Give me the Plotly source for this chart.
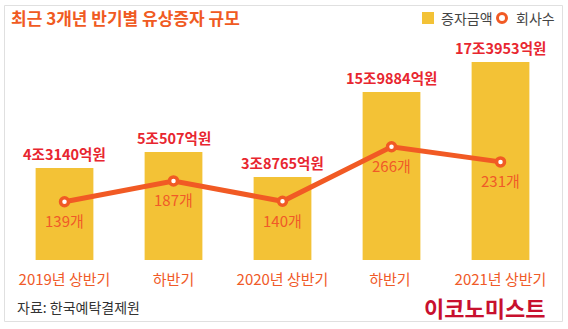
import plotly.graph_objects as go

# ---- data ----
categories = ["2019년 상반기", "하반기", "2020년 상반기", "하반기 ", "2021년 상반기"]
amount_labels = ["4조3140억원", "5조507억원", "3조8765억원", "15조9884억원", "17조3953억원"]
# bar heights as drawn in the infographic (display units)
bar_heights = [92, 108, 83, 168, 198]
company_counts = [139, 187, 140, 266, 231]
count_labels = [f"{v}개" for v in company_counts]

# ---- style ----
W, H = 568, 329
L, R, T, B = 10, 13, 40, 69
PW, PH = W - L - R, H - T - B
FONT = "Noto Sans CJK KR"
BAR_C = "#F3C236"
LINE_C = "#F15A24"
RED = "#E8262F"
ORANGE = "#F05A28"


def px(x):
    return (x - L) / PW


def py(y):
    return (H - B - y) / PH


fig = go.Figure()
fig.add_trace(go.Bar(
    x=categories, y=bar_heights, marker=dict(color=BAR_C, line=dict(width=0)),
    width=0.53, showlegend=False, hoverinfo="skip", yaxis="y"))
fig.add_trace(go.Scatter(
    x=categories, y=company_counts, mode="lines+markers", yaxis="y2",
    line=dict(color=LINE_C, width=5),
    marker=dict(size=8, color="white", line=dict(color=LINE_C, width=3.5)),
    showlegend=False, hoverinfo="skip", cliponaxis=False))

annotations = []
for c, h, t in zip(categories, bar_heights, amount_labels):
    annotations.append(dict(x=c, y=h, xref="x", yref="y", text=f"<b>{t}</b>", showarrow=False,
                            yanchor="middle", yshift=15,
                            font=dict(family=FONT, size=14.5, color=RED)))
for c, v, t in zip(categories, company_counts, count_labels):
    annotations.append(dict(x=c, y=v, xref="x", yref="y2", text=t, showarrow=False,
                            yanchor="middle", yshift=-19,
                            font=dict(family=FONT, size=15, color=ORANGE)))

# title
annotations.append(dict(x=px(9), y=py(17.5), xref="paper", yref="paper", xanchor="left",
                        yanchor="middle", showarrow=False,
                        text="<b>최근 3개년 반기별 유상증자 규모</b>",
                        font=dict(family=FONT, size=17, color="#F05A22")))
# legend
annotations.append(dict(x=px(439), y=py(18), xref="paper", yref="paper", xanchor="left",
                        yanchor="middle", showarrow=False, text="증자금액",
                        font=dict(family=FONT, size=14, color="#444")))
annotations.append(dict(x=px(514), y=py(18), xref="paper", yref="paper", xanchor="left",
                        yanchor="middle", showarrow=False, text="회사수",
                        font=dict(family=FONT, size=14, color="#444")))
# source
annotations.append(dict(x=px(15), y=py(307), xref="paper", yref="paper", xanchor="left",
                        yanchor="middle", showarrow=False, text="자료: 한국예탁결제원",
                        font=dict(family=FONT, size=14, color="#333")))
# logo
annotations.append(dict(x=px(547), y=py(307), xref="paper", yref="paper", xanchor="right",
                        yanchor="middle", showarrow=False, text="<b>이코노미스트</b>",
                        font=dict(family=FONT, size=22, color="#C8102E")))

shapes = [
    dict(type="rect", xref="paper", yref="paper", x0=px(4.5), x1=px(562.5),
         y0=py(321.5), y1=py(5.5), line=dict(color="#E0E0E0", width=1), layer="below"),
    dict(type="rect", xref="paper", yref="paper", x0=px(422), x1=px(434),
         y0=py(24), y1=py(12), fillcolor=BAR_C, line=dict(width=0)),
    dict(type="circle", xref="paper", yref="paper", x0=px(497.5), x1=px(506.5),
         y0=py(22.5), y1=py(13.5), fillcolor="white", line=dict(color=LINE_C, width=3)),
]

fig.update_layout(
    width=W, height=H,
    margin=dict(l=L, r=R, t=T, b=B, autoexpand=False),
    paper_bgcolor="white", plot_bgcolor="white",
    font=dict(family=FONT),
    bargap=0.47,
    xaxis=dict(type="category", range=[-0.5, 4.5], showgrid=False, showline=False,
               zeroline=False, ticks="", ticklabelstandoff=9,
               tickfont=dict(family=FONT, size=15, color=ORANGE)),
    yaxis=dict(range=[0, PH], visible=False, fixedrange=True),
    yaxis2=dict(range=[4.4, 512.5], overlaying="y", visible=False),
    annotations=annotations, shapes=shapes,
)

fig.write_html("out.html")
